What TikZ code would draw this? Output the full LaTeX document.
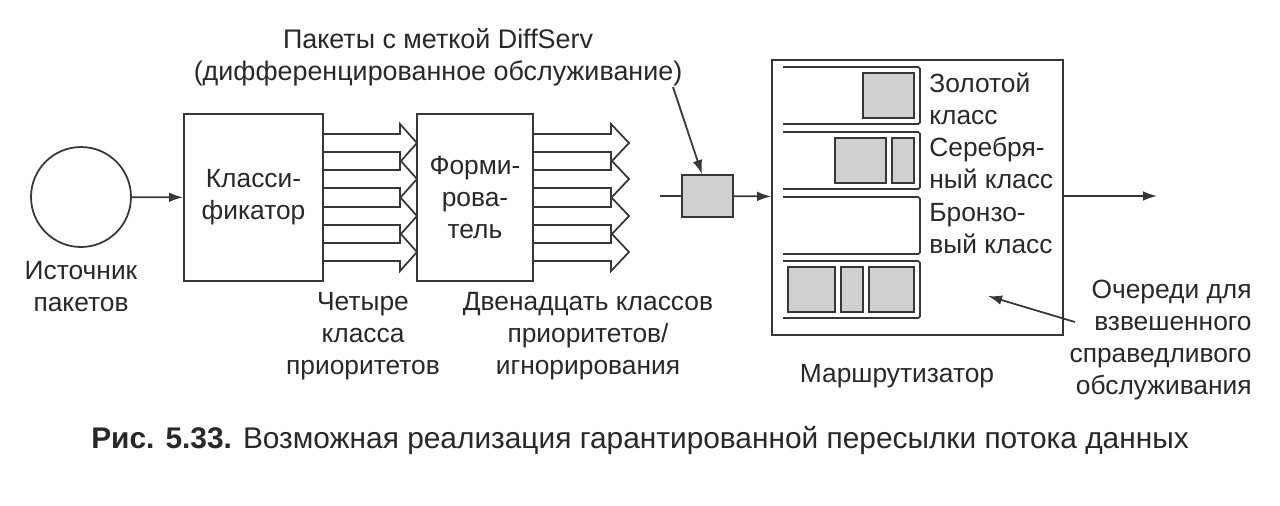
\documentclass[tikz,border=0pt]{standalone}
\usepackage{fontspec}
\setmainfont{Liberation Sans}
\usepackage{tikz}
\usetikzlibrary{arrows.meta}
\definecolor{inkline}{RGB}{55, 55, 55}
\definecolor{inktext}{RGB}{40, 40, 40}
\definecolor{pktfill}{RGB}{208, 208, 208}

\tikzset{
  box/.style={draw=inkline, line width=1pt, inner sep=0pt, align=center},
  lbl/.style={text=inktext, align=center, inner sep=0pt,
    font=\fontsize{15}{18.2}\selectfont},
  arr/.style={draw=inkline, line width=1pt,
    -{Latex[length=8pt, width=5.5pt]}},
  wire/.style={draw=inkline, line width=1pt},
  hollow/.style={draw=inkline, line width=1pt, line join=miter},
  queue/.style={draw=inkline, line width=1pt, rounded corners=1pt},
  packet/.style={draw=inkline, line width=1pt, fill=pktfill},
}

\begin{document}
\begin{tikzpicture}[x=0.02cm, y=-0.02cm]
			\useasboundingbox (0,0) rectangle (1280,505);
			\def\qr{920}

			% main blocks
			\node[box, circle, minimum size=2cm] (src) at (81,197) {};
			\node[box, lbl, minimum width=2.78cm, minimum height=3.34cm] (cls) at (253.5,197.5) {Класси-\\фикатор};
			\node[box, lbl, minimum width=2.32cm, minimum height=3.34cm] (shp) at (475,197.5) {Форми-\\рова-\\тель};
			\node[box, fill=pktfill, minimum width=1.02cm, minimum height=0.84cm] (pkt) at (707.5,196) {};
			\node[box, minimum width=5.82cm, minimum height=5.5cm] (rtr) at (917.5,197.5) {};

			% hollow arrows between the blocks
			\foreach \y in {143,179,216,252} {
				\draw[hollow] (323,\y-9) -- (400,\y-9) -- (400,\y-19) -- (417,\y)
					-- (400,\y+19) -- (400,\y+9) -- (323,\y+9);
				\draw[hollow] (533,\y-9) -- (611,\y-9) -- (611,\y-19) -- (629,\y)
					-- (611,\y+19) -- (611,\y+9) -- (533,\y+9);
			}

			% queues inside the router
			\foreach \t in {67,132,197,261}
				\draw[queue] (783,\t) -- (\qr,\t) -- (\qr,\t+57) -- (783,\t+57);
			\draw[packet] (863,73) rectangle (914,118);
			\draw[packet] (835,138) rectangle (886,183);
			\draw[packet] (892,138) rectangle (914,183);
			\draw[packet] (788,267) rectangle (835,312);
			\draw[packet] (841,267) rectangle (863,312);
			\draw[packet] (869,267) rectangle (914,312);

			% connectors
			\coordinate (pin) at (660,196);
			\coordinate (out) at (1157,196);
			\coordinate (dsa) at (673,87);
			\coordinate (wfa) at (1075,322);
			\coordinate (wfb) at (988,296);
			\draw[arr] (src) -- (cls);
			\draw[wire] (pin) -- (pkt);
			\draw[arr] (pkt) -- (rtr);
			\draw[arr] (rtr.east |- out) -- (out);
			\draw[arr] (dsa) -- ([xshift=-0.11cm]pkt.north);
			\draw[arr] (wfa) -- (wfb);

			% labels
			\node[lbl] (srcl) at (81,287) {Источник\\пакетов};
			\node[lbl] (four) at (363,336) {Четыре\\класса\\приоритетов};
			\node[lbl] (twelve) at (588,336) {Двенадцать классов\\приоритетов/\\игнорирования};
			\node[lbl, font=\fontsize{15.3}{18.2}\selectfont] (ds) at (438,57) {Пакеты с меткой DiffServ\\(дифференцированное обслуживание)};
			\node[lbl, anchor=west, align=left] (gold) at (929,99) {Золотой\\класс};
			\node[lbl, anchor=west, align=left] (silver) at (929,163) {Серебря-\\ный класс};
			\node[lbl, anchor=west, align=left] (bronze) at (929,229) {Бронзо-\\вый класс};
			\node[lbl] (rtrl) at (897,376) {Маршрутизатор};
			\node[lbl, anchor=east, align=right] (wfq) at (1252,340) {Очереди для\\взвешенного\\справедливого\\обслуживания};
			\node[lbl, font=\fontsize{17}{20}\selectfont] (cap) at (640,441) {\textbf{Рис. 5.33.} Возможная реализация гарантированной пересылки потока данных};
		\end{tikzpicture}
\end{document}
